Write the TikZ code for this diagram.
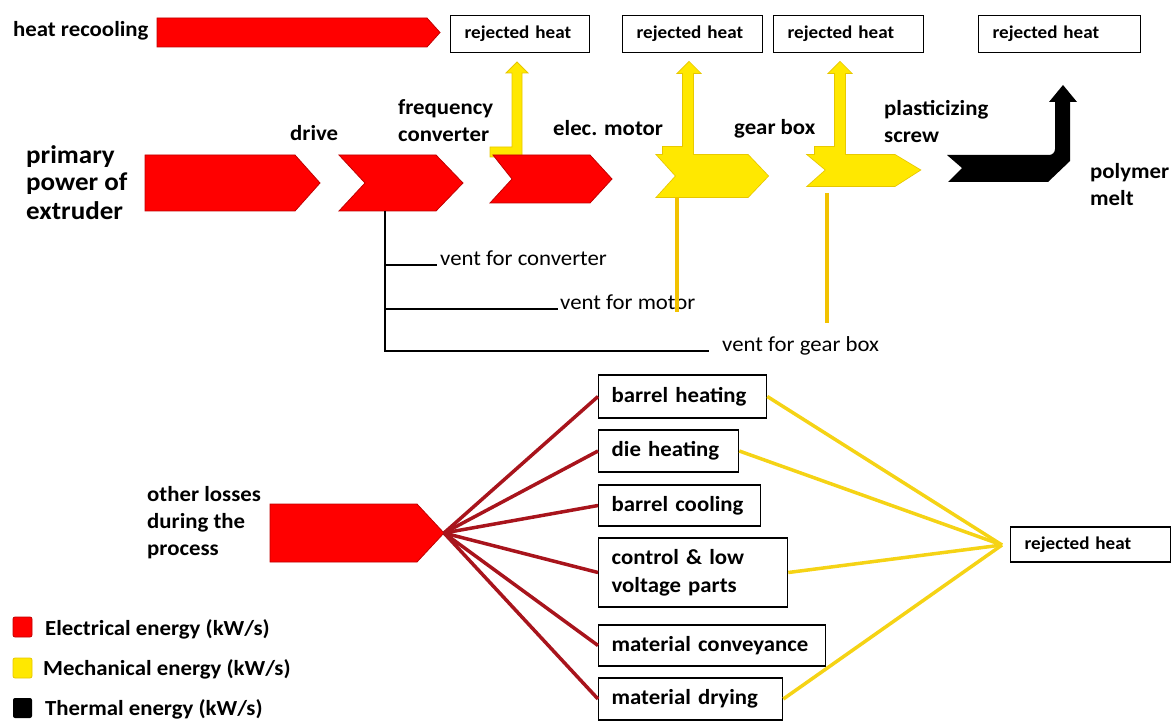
\documentclass[tikz,border=0pt]{standalone}
\usepackage{fontspec}
\setmainfont{Carlito}[FakeStretch=1.06]
\definecolor{ered}{HTML}{FF0000}
\definecolor{eredline}{HTML}{C00000}
\definecolor{myel}{HTML}{FFE800}
\definecolor{myelline}{HTML}{E6C600}
\definecolor{goldline}{HTML}{F2C200}
\definecolor{dred}{HTML}{A8141C}
\definecolor{fanyel}{HTML}{F5D315}
\begin{document}
\begin{tikzpicture}[x=1pt,y=-1pt,
  every node/.style={inner sep=0pt},
  lab/.style={font=\fontsize{21.5}{27}\selectfont\bfseries, align=left, anchor=base west},
  biglab/.style={font=\fontsize{25.5}{28}\selectfont\bfseries, align=left, anchor=base west},
  ventlab/.style={font=\fontsize{21.5}{27}\selectfont, anchor=base west},
  rjbox/.style={draw, line width=1.3pt, font=\fontsize{18}{22}\selectfont\bfseries, inner xsep=14pt, inner ysep=0pt, align=left, anchor=north west, minimum height=37pt},
  ebox/.style={draw, line width=1.3pt, font=\fontsize{21.5}{28}\selectfont\bfseries, inner xsep=13pt, inner ysep=0pt, align=left, anchor=west},
  redflow/.style={fill=ered, draw=eredline, line width=0.8pt, line join=miter},
  yelout/.style={draw=myelline, line width=1.6pt, line join=miter},
  yelfill/.style={fill=myel},
  blackflow/.style={fill=black},
  vent/.style={draw=black, line width=2.4pt},
  goldv/.style={draw=goldline, line width=3.5pt},
  redfan/.style={draw=dred, line width=3.5pt},
  yelfan/.style={draw=fanyel, line width=3.5pt},
  legsq/.style={rounded corners=2pt, line width=0.8pt}
]
\useasboundingbox (0,0) rectangle (1172,722);

% ---------- top row ----------
\node[lab] (hr) at (13,37) {heat recooling};
\path[redflow] (157,18) -- (427,18) -- (440,32.5) -- (427,47) -- (157,47) -- cycle;

\node[rjbox, text width=111pt] (rj1) at (450,15) {rejected heat};
\node[rjbox, text width=112pt] (rj2) at (622,15) {rejected heat};
\node[rjbox, text width=122pt] (rj3) at (773,15) {rejected heat};
\node[rjbox, text width=134pt] (rj4) at (978,15) {rejected heat};

% yellow bent arrow from frequency converter
\path[fill=myel, draw=myelline, line width=0.8pt] (490,147) -- (512,147) -- (512,73) -- (506,73) -- (517,62) -- (528,73) -- (522,73) -- (522,157) -- (490,157) -- cycle;

% red chevrons
\path[redflow] (145,155) -- (295,155) -- (320,183) -- (295,211) -- (145,211) -- cycle;
\path[redflow] (339,155) -- (436,155) -- (463,183) -- (436,211) -- (339,211) -- (365,183) -- cycle;
\path[redflow] (493,155) -- (590,155) -- (612,179) -- (590,203) -- (490,203) -- (512,179) -- cycle;

% yellow chevrons with bent arrows (outlines first, fills on top)
\path[yelout] (657,155) -- (748,155) -- (768,176) -- (748,197) -- (657,197) -- (676,176) -- cycle;
\path[yelout] (663,147) -- (683,147) -- (683,73) -- (678,73) -- (689,62) -- (700,73) -- (693,73) -- (693,158) -- (663,158) -- cycle;
\path[yelout] (808,155) -- (895,155) -- (920,170) -- (895,186) -- (808,186) -- (826,170) -- cycle;
\path[yelout] (815,147) -- (835,147) -- (835,73) -- (829,73) -- (840,62) -- (851,73) -- (845,73) -- (845,158) -- (815,158) -- cycle;
\path[yelfill] (657,155) -- (748,155) -- (768,176) -- (748,197) -- (657,197) -- (676,176) -- cycle;
\path[yelfill] (663,147) -- (683,147) -- (683,73) -- (678,73) -- (689,62) -- (700,73) -- (693,73) -- (693,158) -- (663,158) -- cycle;
\path[yelfill] (808,155) -- (895,155) -- (920,170) -- (895,186) -- (808,186) -- (826,170) -- cycle;
\path[yelfill] (815,147) -- (835,147) -- (835,73) -- (829,73) -- (840,62) -- (851,73) -- (845,73) -- (845,158) -- (815,158) -- cycle;

% black bent arrow (thermal)
\path[blackflow] (947,155) -- (1049,155) to[out=0,in=-90] (1055,149) -- (1055,102) -- (1049,102) -- (1063,85) -- (1077,102) -- (1070,102) -- (1070,161) -- (1048,182) -- (948,182) -- (962,168) -- cycle;

% labels of the main row (base = baseline of the last line)
\node[biglab] (pp) at (26,219) {primary\\power of\\extruder};
\node[lab] (dr) at (290,141) {drive};
\node[lab] (fc) at (398,142) {frequency\\converter};
\node[lab] (em) at (553,136) {elec. motor};
\node[lab] (gb) at (734,135) {gear box};
\node[lab] (ps) at (884,143) {plasticizing\\screw};
\node[lab] (pm) at (1090,205) {polymer\\melt};

% vents
\coordinate (v0) at (385,211);
\node[ventlab] (vc) at (440,265) {vent for converter};
\node[ventlab] (vm) at (560,309) {vent for motor};
\node[ventlab] (vg) at (722,351) {vent for gear box};
\draw[vent] (v0) |- ([xshift=-3pt]vc.base west);
\draw[vent] (v0) |- ([xshift=-2pt]vm.base west);
\draw[vent] (v0) |- ([xshift=-13pt]vg.base west);

% gold vertical lines under the yellow chevrons
\coordinate (g1a) at (677,197);
\coordinate (g1b) at (677,312);
\coordinate (g2a) at (827,193);
\coordinate (g2b) at (827,323);
\draw[goldv] (g1a) -- (g1b);
\draw[goldv] (g2a) -- (g2b);

% ---------- bottom part ----------
\node[lab] (ol) at (147,555) {other losses\\during the\\process};
\path[redflow] (270,504) -- (417,504) -- (444,533) -- (417,562) -- (270,562) -- cycle;
\coordinate (otip) at (444,533);

\node[ebox, text width=142pt, minimum height=43pt] (bh) at (598,396.5) {barrel heating};
\node[ebox, text width=114pt, minimum height=42pt] (dh) at (598,451) {die heating};
\node[ebox, text width=136pt, minimum height=41pt] (bc) at (598,505.5) {barrel cooling};
\node[ebox, text width=163pt, minimum height=69pt] (cl) at (598,572.5) {control \& low\\voltage parts};
\node[ebox, text width=201pt, minimum height=41pt] (mc) at (598,645.5) {material conveyance};
\node[ebox, text width=158pt, minimum height=42pt] (md) at (598,699) {material drying};

\node[rjbox, text width=132pt, minimum height=35pt, anchor=west] (rjb) at (1010,544.5) {rejected heat};
\coordinate (rjp) at (1002,545);

\foreach \b in {bh,dh,bc,cl,mc,md}{\draw[redfan] (otip) -- (\b.west);}
\foreach \b in {bh,dh,cl,md}{\draw[yelfan] (\b.east) -- (rjp);}

% ---------- legend ----------
\path[legsq, fill=ered, draw=eredline] (13,617) rectangle (32,637);
\path[legsq, fill=myel, draw=myelline] (13,658) rectangle (32,678);
\path[legsq, fill=black] (13,698) rectangle (32,718);
\node[lab] (le) at (45,635) {Electrical energy (kW/s)};
\node[lab] (lm) at (43,675) {Mechanical energy (kW/s)};
\node[lab] (lt) at (45,715) {Thermal energy (kW/s)};
\end{tikzpicture}
\end{document}
